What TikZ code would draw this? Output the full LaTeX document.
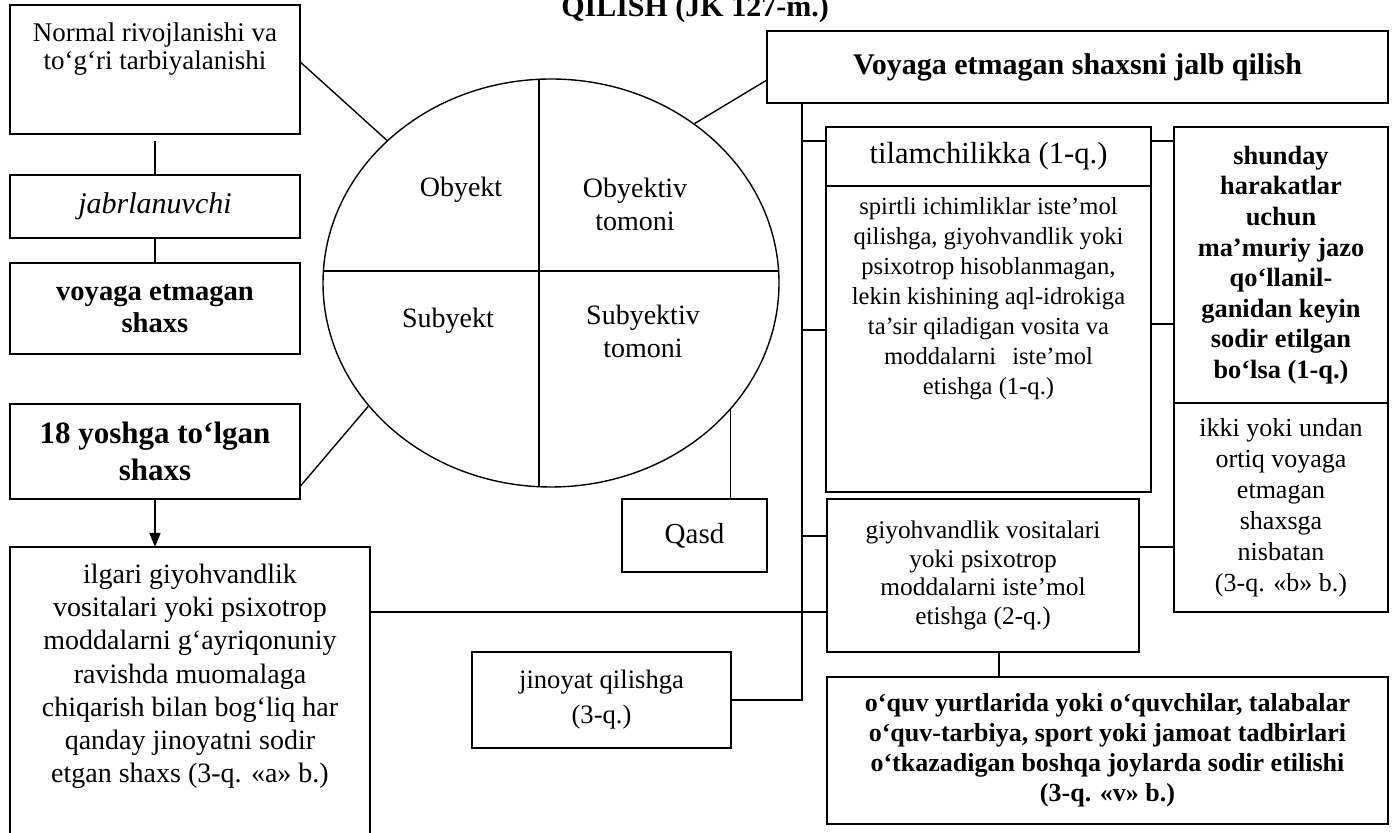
\documentclass[tikz,border=0pt]{standalone}
\usepackage{fontspec}
\setmainfont{Liberation Serif}
\usetikzlibrary{arrows.meta,calc,shapes.geometric}
\newcommand\setfs[2]{\fontsize{#1pt}{#2pt}\selectfont}
\begin{document}
\begin{tikzpicture}[x=0.5pt,y=-0.5pt,
  bx/.style={draw, line width=0.7pt, anchor=north west, inner sep=0pt, outer sep=0pt, align=center},
  ln/.style={line width=0.7pt},
  lbl/.style={align=center, font=\setfs{14}{16.5}}]
\useasboundingbox (0,0) rectangle (1392,833);
\clip (0,0) rectangle (1392,833);

% title (top cut off)
\node[font=\bfseries\setfs{15}{17}, anchor=base] (title) at (695,17) {QILISH (JK 127-m.)};

% left column
\node[bx, minimum width=145pt, minimum height=64.5pt] (normal) at (10,5)
  {\parbox[c][64.5pt][t]{145pt}{\centering\vspace*{9pt}\setfs{13.5}{14}Normal rivojlanishi va\\ to‘g‘ri tarbiyalanishi}};
\node[bx, minimum width=145pt, minimum height=31.5pt, font=\itshape\setfs{15}{17}] (jabr) at (10,175) {jabrlanuvchi};
\node[bx, minimum width=145pt, minimum height=45.5pt, font=\bfseries\setfs{14.3}{16}] (voy2) at (10,263) {voyaga etmagan\\ shaxs};
\node[bx, minimum width=145pt, minimum height=47.5pt, font=\bfseries\setfs{15.5}{18.5}] (y18) at (10,404) {18 yoshga to‘lgan\\ shaxs};
\node[bx, minimum width=180pt, minimum height=149pt] (ilgari) at (10,547)
  {\parbox[c][149pt][t]{180pt}{\centering\vspace*{8.5pt}\setfs{14}{16.6}ilgari giyohvandlik\\ vositalari yoki psixotrop\\ moddalarni g‘ayriqonuniy\\ ravishda muomalaga\\ chiqarish bilan bog‘liq har\\ qanday jinoyatni sodir\\ etgan shaxs (3-q. «a» b.)}};

% ellipse
\node[draw, ellipse, line width=0.7pt, minimum width=228pt, minimum height=204pt, inner sep=0pt] (circ) at (551,283) {};
\draw[ln] (539,79.3) -- (539,486.7);
\draw[ln] (323.4,271) -- (778.6,271);
\node[lbl] (obj) at (461,190) {Obyekt};
\node[lbl] (objt) at (635,204) {Obyektiv\\ tomoni};
\node[lbl] (sub) at (448,321) {Subyekt};
\node[lbl] (subt) at (643,331.5) {Subyektiv\\ tomoni};

% middle boxes
\node[bx, minimum width=72.5pt, minimum height=36.5pt, font=\setfs{14.5}{17}] (qasd) at (622,499) {Qasd};
\node[bx, minimum width=129.5pt, minimum height=48pt, font=\setfs{13.3}{17.5}] (jin) at (472,652) {jinoyat qilishga\\ (3-q.)};

% right side
\node[bx, minimum width=310.5pt, minimum height=36pt, font=\bfseries\setfs{15}{17}] (voy) at (767,31) {Voyaga etmagan shaxsni jalb qilish};
\node[bx, minimum width=162.5pt, minimum height=29.5pt, font=\setfs{15.3}{17}] (tila) at (826,127) {tilamchilikka (1-q.)};
\node[bx, minimum width=162.5pt, minimum height=153pt] (spirt) at (826,186)
  {\parbox[c][153pt][t]{162.5pt}{\centering\vspace*{5.6pt}\setfs{12.3}{15}spirtli ichimliklar iste’mol\\ qilishga, giyohvandlik yoki\\ psixotrop hisoblanmagan,\\ lekin kishining aql-idrokiga\\ ta’sir qiladigan vosita va\\ moddalarni\hspace{5pt} iste’mol\\ etishga (1-q.)}};
\node[bx, minimum width=107pt, minimum height=138pt, font=\bfseries\setfs{13.2}{15.3}] (shun) at (1174,127)
  {shunday\\ harakatlar\\ uchun\\ ma’muriy jazo\\ qo‘llanil-\\ ganidan keyin\\ sodir etilgan\\ bo‘lsa (1-q.)};
\node[bx, minimum width=107pt, minimum height=104.5pt, font=\setfs{13}{15.5}] (ikki) at (1174,403)
  {ikki yoki undan\\ ortiq voyaga\\ etmagan\\ shaxsga\\ nisbatan\\ (3-q. «b» b.)};
\node[bx, minimum width=156pt, minimum height=76.5pt, font=\setfs{12.7}{14.3}] (giyo) at (827,499)
  {giyohvandlik vositalari\\ yoki psixotrop\\ moddalarni iste’mol\\ etishga (2-q.)};
\node[bx, minimum width=280.5pt, minimum height=73.5pt, font=\bfseries\setfs{13}{15}] (oquv) at (827,677)
  {o‘quv yurtlarida yoki o‘quvchilar, talabalar\\ o‘quv-tarbiya, sport yoki jamoat tadbirlari\\ o‘tkazadigan boshqa joylarda sodir etilishi\\ (3-q. «v» b.)};

% connectors: ellipse
\draw[ln] ($(normal.north east)!0.44!(normal.south east)$) -- (circ.139.3);
\draw[ln] ($(y18.north east)!0.87!(y18.south east)$) -- (circ.214.1);
\draw[ln] (circ.48.6) -- ($(voy.north west)!0.68!(voy.south west)$);
\coordinate (qa) at ($(qasd.north west)!0.75!(qasd.north east)$);
\draw[ln] (qa) -- (qa |- circ.-35);

% left column connectors
\draw[ln] ($(normal.south)+(0,7)$) -- (jabr.north);
\draw[ln] (jabr.south) -- (voy2.north);
\draw[ln, -{Triangle[length=7pt,width=5.5pt]}] (y18.south) -- (y18.south |- ilgari.north);
\coordinate (il1) at ($(ilgari.north east)+(0,65)$);
\draw[ln] (il1) -- (il1 -| giyo.west);

% trunk
\coordinate (t0) at ($(voy.south west)+(35,0)$);
\coordinate (t1) at (t0 |- jin.east);
\draw[ln] (t0) -- (t1) -- (jin.east);
\coordinate (b1) at ($(tila.north west)+(0,14)$);
\coordinate (b2) at ($(spirt.north west)+(0,144)$);
\coordinate (b3) at ($(giyo.north west)+(0,37)$);
\draw[ln] (t0 |- b1) -- (b1);
\draw[ln] (t0 |- b2) -- (b2);
\draw[ln] (t0 |- b3) -- (b3);

% right connectors
\coordinate (r1) at ($(tila.north east)+(0,14)$);
\coordinate (r2) at ($(spirt.north east)+(0,138)$);
\coordinate (r3) at ($(giyo.north east)+(0,48)$);
\draw[ln] (r1) -- (r1 -| shun.west);
\draw[ln] (r2) -- (r2 -| shun.west);
\draw[ln] (r3) -- (r3 -| ikki.west);
\coordinate (q1) at ($(giyo.south west)+(172,0)$);
\draw[ln] (q1) -- (q1 |- oquv.north);
\end{tikzpicture}
\end{document}
